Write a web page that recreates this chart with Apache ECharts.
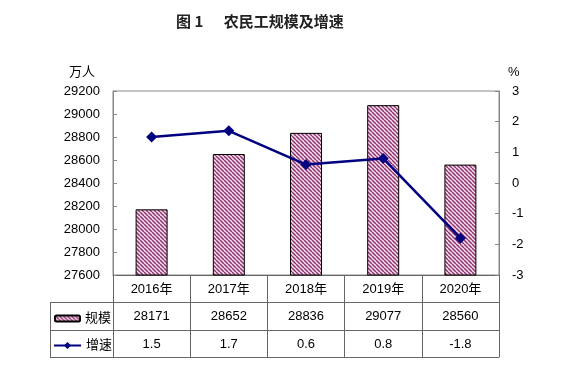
<!DOCTYPE html>
<html><head><meta charset="utf-8">
<script src="https://cdn.jsdelivr.net/npm/echarts@6/dist/echarts.min.js"></script>
<style>html,body{margin:0;padding:0;background:#fff}#c{width:574px;height:368px}</style>
</head><body><div id="c"></div>
<script>
const categories = ['2016年','2017年','2018年','2019年','2020年'];
const scaleValues = [28171, 28652, 28836, 29077, 28560];
const growthValues = [1.5, 1.7, 0.6, 0.8, -1.8];
const seriesNames = ['规模', '增速'];
const titleText = '图 1      农民工规模及增速';
const leftUnit = '万人';
const rightUnit = '%';

const FONT = "'Liberation Sans', Arial, 'Noto Sans CJK SC', sans-serif";

function hatch() {
  const c = document.createElement('canvas');
  c.width = 4; c.height = 4;
  const g = c.getContext('2d');
  g.fillStyle = '#f7d9ef';
  g.fillRect(0, 0, 4, 4);
  g.strokeStyle = '#8a3468';
  g.lineWidth = 1.4;
  for (const x of [-4, 0, 4]) {
    g.beginPath(); g.moveTo(x, 0); g.lineTo(x + 4, 4); g.stroke();
  }
  return { image: c, repeat: 'repeat' };
}
const pattern = hatch();

const chart = echarts.init(document.getElementById('c'), null, { renderer: 'canvas' });
const lineColor = '#666';
const tableX = 50, gridL = 113, gridR = 499, tTop = 275;
const rowH = [27, 55, 82];

const baseX = (offset, labelFn, showLine) => ({
  type: 'category', data: categories, gridIndex: 0, position: 'bottom', offset: offset,
  axisLine: { show: showLine, onZero: false, lineStyle: { color: lineColor, width: 1 } },
  axisTick: { show: false },
  axisLabel: { show: !!labelFn, formatter: labelFn ? (v, i) => labelFn(i) : '', fontSize: 13, color: '#000', fontFamily: FONT, margin: 8 }
});

const option = {
  animation: false,
  backgroundColor: '#fff',
  title: {
    text: titleText, left: 171, top: 9,
    textStyle: { fontSize: 15, fontWeight: 'bold', color: '#222', fontFamily: "'Noto Sans CJK SC', sans-serif" }
  },
  grid: { left: gridL, right: 574 - gridR, top: 91, bottom: 368 - tTop, show: true, borderColor: '#888', borderWidth: 1, containLabel: false },
  legend: [
    { data: [seriesNames[0]], left: 49, top: 307, itemWidth: 25, itemHeight: 6, textStyle: { fontSize: 13, color: '#000', fontFamily: FONT } },
    { data: [seriesNames[1]], left: 48, top: 334, itemWidth: 27, itemHeight: 9, textStyle: { fontSize: 13, color: '#000', fontFamily: FONT } }
  ],
  xAxis: [
    {
      type: 'category', data: categories, position: 'bottom',
      axisLine: { show: true, onZero: false, lineStyle: { color: lineColor } },
      axisTick: { show: true, length: 82, lineStyle: { color: lineColor } },
      axisLabel: { fontSize: 13, color: '#000', fontFamily: FONT, margin: 8 }
    },
    baseX(27, i => String(scaleValues[i]), true),
    baseX(55, i => String(growthValues[i]), true),
    baseX(82, null, true)
  ],
  yAxis: [
    {
      type: 'value', min: 27600, max: 29200, interval: 200,
      axisLine: { show: true, lineStyle: { color: '#888' } },
      axisTick: { show: true, inside: true, length: 4, lineStyle: { color: '#888' } },
      splitLine: { show: false },
      axisLabel: { fontSize: 13, color: '#000', fontFamily: FONT, margin: 13, formatter: v => String(v) }
    },
    {
      type: 'value', min: -3, max: 3, interval: 1, position: 'right',
      axisLine: { show: true, lineStyle: { color: '#888' } },
      axisTick: { show: true, inside: true, length: 4, lineStyle: { color: '#888' } },
      splitLine: { show: false },
      axisLabel: { fontSize: 13, color: '#000', fontFamily: FONT, margin: 13, formatter: v => String(v) }
    }
  ],
  graphic: [
    { type: 'text', left: 69, top: 66, style: { text: leftUnit, fontSize: 13, fill: '#000', fontFamily: FONT } },
    { type: 'text', left: 508, top: 66, style: { text: rightUnit, fontSize: 13, fill: '#000', fontFamily: FONT } },
    { type: 'line', shape: { x1: tableX, y1: tTop + rowH[0] + 0.5, x2: gridL, y2: tTop + rowH[0] + 0.5 }, style: { stroke: lineColor, lineWidth: 1 } },
    { type: 'line', shape: { x1: tableX, y1: tTop + rowH[1] + 0.5, x2: gridL, y2: tTop + rowH[1] + 0.5 }, style: { stroke: lineColor, lineWidth: 1 } },
    { type: 'line', shape: { x1: tableX, y1: tTop + rowH[2] + 0.5, x2: gridL, y2: tTop + rowH[2] + 0.5 }, style: { stroke: lineColor, lineWidth: 1 } },
    { type: 'line', shape: { x1: tableX + 0.5, y1: tTop + rowH[0], x2: tableX + 0.5, y2: tTop + rowH[2] + 1 }, style: { stroke: lineColor, lineWidth: 1 } }
  ],
  series: [
    {
      name: seriesNames[0], type: 'bar', data: scaleValues, barWidth: 32,
      itemStyle: { color: pattern, borderColor: '#000', borderWidth: 1 }
    },
    {
      name: seriesNames[1], type: 'line', yAxisIndex: 1, data: growthValues,
      symbol: 'diamond', symbolSize: 11,
      itemStyle: { color: '#000080' },
      lineStyle: { color: '#000080', width: 2.5 }
    }
  ]
};
chart.setOption(option);
</script>
</body></html>
